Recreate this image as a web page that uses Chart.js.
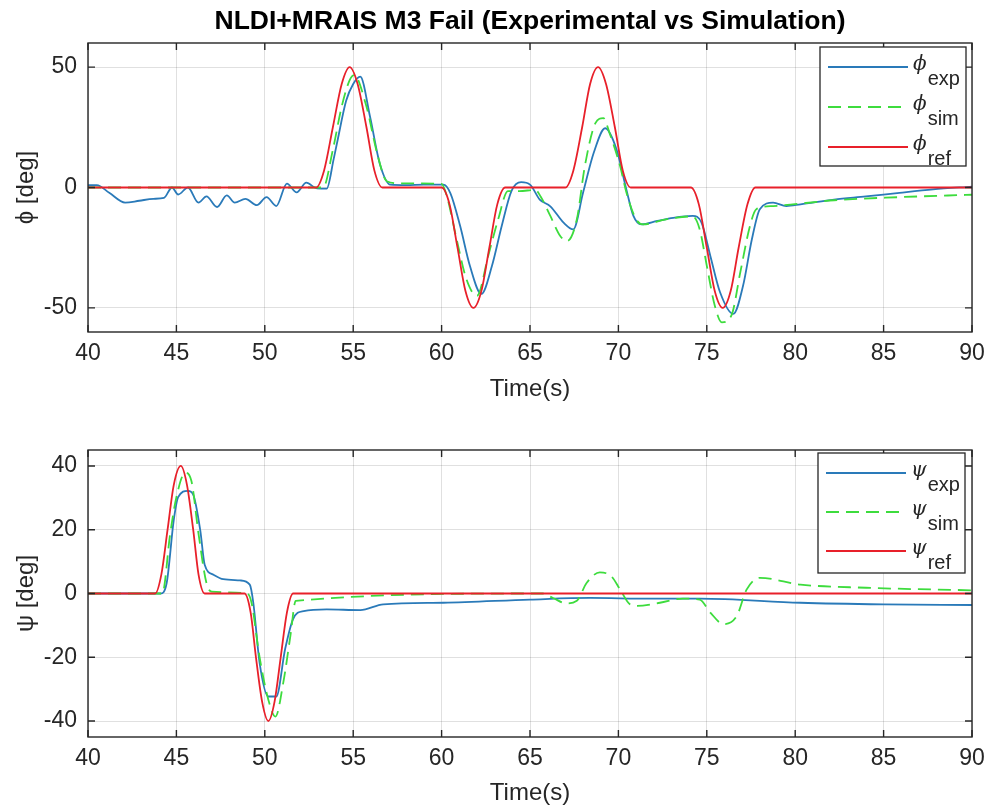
<!DOCTYPE html>
<html>
<head>
<meta charset="utf-8">
<script src="https://cdn.jsdelivr.net/npm/chart.js@4.4.1/dist/chart.umd.min.js"></script>
<style>
  html, body { margin: 0; padding: 0; background: #fff; }
  #wrap { position: relative; width: 987px; height: 809px; }
  .box { position: absolute; left: 0; width: 987px; }
  #phiBox { top: 0; height: 410px; }
  #psiBox { top: 410px; height: 399px; }
</style>
</head>
<body>
<div id="wrap">
  <div class="box" id="phiBox"><canvas id="phiChart"></canvas></div>
  <div class="box" id="psiBox"><canvas id="psiChart"></canvas></div>
</div>
<script>
// ---- data ----
const timeTicks = [40, 45, 50, 55, 60, 65, 70, 75, 80, 85, 90];
const phiTicks = [-50, 0, 50];
const psiTicks = [-40, -20, 0, 20, 40];

// roll angle (top plot)
const tPhiExp = [40, 40.5, 41.2, 42.1, 42.9, 43.7, 44.3, 44.75, 45.1, 45.65, 46.25, 46.7, 47.3, 47.85, 48.3, 48.9, 49.55, 50.1, 50.65, 51.25, 51.8, 52.35, 52.95, 53.5, 53.9, 54.1, 54.6, 55.0, 55.4, 55.95, 56.5, 57.1, 58, 59, 60.1, 60.5, 61.05, 61.6, 62.25, 62.85, 63.4, 63.95, 64.5, 65.0, 65.55, 66.15, 66.9, 67.45, 68.0, 68.6, 69.25, 69.9, 70.45, 70.85, 71.3, 72.2, 73.1, 74.2, 74.7, 75.2, 75.75, 76.5, 77.05, 77.55, 78.0, 78.75, 79.5, 80.3, 82.2, 84.0, 85.9, 87.8, 90];
const phiExp = [1, 1, -2.2, -6.3, -5.5, -4.7, -4.3, 0, -2.9, 0, -6.3, -3.7, -8.1, -3.3, -6.3, -4.7, -7.3, -4, -7.7, 1.6, -2, 2, -0.4, -0.5, 12, 19, 36, 43, 46, 29.5, 10, 1.2, 1, 1.2, 1.2, -2.4, -16, -32.5, -44.2, -32.5, -16, -1.5, 2.2, 1.2, -5, -7.8, -14.6, -17.4, -2.2, 14.3, 24.6, 15.7, -0.8, -11.8, -15.3, -13.9, -12.6, -11.8, -14.6, -28.4, -43.5, -52.5, -40.8, -21.5, -9, -6.3, -7.7, -7, -5, -3.7, -2.2, -0.8, 0.4];

const tPhiSim = [40, 53.3, 53.85, 54.35, 54.8, 55.05, 55.75, 56.35, 56.9, 57.65, 60.0, 60.3, 60.85, 61.4, 62.0, 62.65, 63.2, 63.75, 64.4, 65.3, 65.6, 66.15, 66.7, 67.1, 67.65, 68.1, 68.7, 69.15, 69.5, 70.1, 70.45, 71.0, 71.4, 72.7, 74.2, 74.6, 75.0, 75.45, 75.85, 76.4, 76.9, 77.45, 77.8, 78.75, 82.2, 85.9, 90];
const phiSim = [0, 0, 15.7, 33.6, 44.6, 46.7, 33.6, 14.3, 2.6, 1.7, 1.5, -3.7, -21.5, -38, -45, -28, -13.2, -1.5, -1.5, -1, -3.7, -11.8, -20, -22.2, -13.2, 8.8, 26.7, 28.8, 22.6, 8.8, -2, -13.2, -15.3, -13.2, -12, -17.4, -32.5, -49, -56, -53, -35, -15.7, -9, -7.7, -5.3, -4, -3];

const tPhiRef = [40, 52.9, 53.35, 53.85, 54.35, 54.8, 55.25, 55.75, 56.2, 56.65, 60.0, 60.45, 60.9, 61.35, 61.8, 62.25, 62.7, 63.15, 63.6, 67.0, 67.45, 67.95, 68.4, 68.85, 69.3, 69.8, 70.25, 70.7, 74.1, 74.55, 75.0, 75.45, 75.9, 76.35, 76.8, 77.3, 77.75, 90];
const phiRef = [0, 0, 7, 25, 43, 50, 43, 25, 7, 0, 0, -7, -25, -43, -50, -43, -25, -7, 0, 0, 7, 25, 43, 50, 43, 25, 7, 0, 0, -7, -25, -43, -50, -43, -25, -7, 0, 0];

// yaw angle (bottom plot)
const tPsiExp = [40, 44.1, 44.45, 44.85, 45.1, 45.65, 45.95, 46.35, 46.6, 47.1, 47.65, 48.6, 49.15, 49.35, 49.7, 50.2, 50.65, 51.15, 51.6, 52.2, 53.5, 55.4, 56.7, 60.1, 65, 68.4, 71.8, 74.6, 80.3, 85, 90];
const psiExp = [0, 0, 3.3, 23, 30.2, 32.2, 31, 19.8, 9, 5.9, 4.5, 4.1, 2.8, -2.9, -21.5, -32.3, -32.3, -17.4, -8, -5.5, -5, -5.2, -3.4, -2.9, -1.9, -1.4, -1.6, -1.6, -2.9, -3.4, -3.6];

const tPsiSim = [40, 44.2, 44.65, 45.0, 45.5, 45.85, 46.25, 46.7, 47.0, 49.0, 49.25, 49.7, 50.2, 50.6, 51.05, 51.45, 51.75, 65.7, 66.3, 67.05, 67.65, 68.2, 68.95, 69.6, 70.1, 70.65, 71.05, 72.35, 73.65, 74.6, 75.2, 75.95, 76.7, 77.25, 78.0, 80.3, 84.0, 90];
const psiSim = [0, 0, 18.8, 30.2, 37.9, 35.3, 18.8, 3.3, 0.6, 0, -2.9, -19.8, -33.3, -38.6, -27.8, -13.2, -2.3, 0, -1.4, -3.1, -2.3, 3.3, 6.6, 5.4, 1.2, -3.4, -3.9, -2.9, -1.6, -1.9, -6, -9.6, -7, 1.2, 4.9, 2.8, 1.8, 1];

const tPsiRef = [40, 43.8, 44.15, 44.5, 44.85, 45.25, 45.6, 45.95, 46.25, 46.6, 48.85, 49.2, 49.5, 49.85, 50.2, 50.55, 50.9, 51.25, 51.6, 90];
const psiRef = [0, 0, 6, 20, 34, 40, 34, 20, 6, 0, 0, -6, -20, -34, -40, -34, -20, -6, 0, 0];

const colors = { exp: '#2a7ab9', sim: '#3ddc3d', ref: '#e8202a' };

Chart.defaults.font.family = '"Liberation Sans", Arial, sans-serif';
Chart.defaults.color = '#262626';

const toPts = (t, v) => t.map((x, i) => ({ x: x, y: v[i] }));

// box around the axes with inward ticks on all four sides, MATLAB style
const matFrame = {
    id: 'matFrame',
    afterDatasetsDraw(chart) {
        const { ctx, chartArea: a, scales } = chart;
        ctx.save();
        ctx.strokeStyle = '#262626';
        ctx.lineWidth = 1.4;
        ctx.strokeRect(a.left, a.top, a.right - a.left, a.bottom - a.top);
        ctx.beginPath();
        scales.x.ticks.forEach(t => {
            const px = scales.x.getPixelForValue(t.value);
            ctx.moveTo(px, a.bottom); ctx.lineTo(px, a.bottom - 7);
            ctx.moveTo(px, a.top); ctx.lineTo(px, a.top + 7);
        });
        scales.y.ticks.forEach(t => {
            const py = scales.y.getPixelForValue(t.value);
            ctx.moveTo(a.left, py); ctx.lineTo(a.left + 7, py);
            ctx.moveTo(a.right, py); ctx.lineTo(a.right - 7, py);
        });
        ctx.stroke();
        ctx.restore();
    }
};

// legend with subscripted greek labels ("ϕ_exp" -> ϕ + subscript exp)
const matLegend = {
    id: 'matLegend',
    afterDraw(chart, args, opts) {
        const { ctx, chartArea: a } = chart;
        const x0 = a.right - opts.right - opts.width;
        const y0 = a.top + opts.top;
        ctx.save();
        ctx.fillStyle = '#fff';
        ctx.fillRect(x0, y0, opts.width, opts.height);
        ctx.strokeStyle = '#262626';
        ctx.lineWidth = 1.3;
        ctx.strokeRect(x0, y0, opts.width, opts.height);
        chart.data.datasets.forEach((ds, i) => {
            const cy = y0 + opts.rowTop + i * opts.rowGap;
            ctx.strokeStyle = ds.borderColor;
            ctx.lineWidth = ds.borderWidth;
            ctx.setLineDash(ds.borderDash || []);
            ctx.beginPath();
            ctx.moveTo(x0 + 8, cy);
            ctx.lineTo(x0 + 88, cy);
            ctx.stroke();
            ctx.setLineDash([]);
            const [sym, sub] = ds.label.split('_');
            ctx.fillStyle = '#262626';
            ctx.textAlign = 'left';
            ctx.textBaseline = 'middle';
            ctx.font = 'italic 20px "DejaVu Serif"';
            ctx.fillText(sym, x0 + 93, cy - 2);
            const w = ctx.measureText(sym).width;
            ctx.font = '20px "Liberation Sans"';
            ctx.fillText(sub, x0 + 94 + w, cy + 12);
        });
        ctx.restore();
    }
};

function lineSet(label, pts, color, order, dash) {
    return {
        label: label,
        data: pts,
        borderColor: color,
        borderWidth: 1.8,
        borderDash: dash || [],
        pointRadius: 0,
        fill: false,
        cubicInterpolationMode: 'monotone',
        order: order
    };
}

function makeOptions(cfg) {
    return {
        responsive: true,
        maintainAspectRatio: false,
        animation: false,
        layout: { padding: { top: cfg.padTop, right: 15, left: 0, bottom: 0 } },
        plugins: {
            legend: { display: false },
            tooltip: { enabled: false },
            title: cfg.title ? {
                display: true,
                text: cfg.title,
                fullSize: false,
                font: { size: 26.5, weight: 'bold' },
                color: '#000',
                padding: { top: 6, bottom: 5.2 }
            } : { display: false },
            matLegend: cfg.legend
        },
        scales: {
            x: {
                type: 'linear',
                min: 40, max: 90,
                afterBuildTicks: s => { s.ticks = timeTicks.map(v => ({ value: v })); },
                afterFit: s => { s.height = cfg.xHeight; },
                // small label padding keeps the right edge at 972; the gap comes from a hidden tick length
                ticks: { font: { size: 23 }, padding: 2, maxRotation: 0, autoSkip: false },
                grid: { color: 'rgba(0,0,0,0.12)', drawTicks: true, tickLength: 6, tickColor: 'rgba(0,0,0,0)' },
                border: { display: false },
                title: { display: true, text: 'Time(s)', font: { size: 24 }, padding: { bottom: cfg.xTitlePad } }
            },
            y: {
                min: cfg.yMin, max: cfg.yMax,
                afterBuildTicks: s => { s.ticks = cfg.yTicks.map(v => ({ value: v })); },
                afterFit: s => { s.width = 88; },
                ticks: { font: { size: 23 }, padding: 11 },
                grid: { color: 'rgba(0,0,0,0.12)', drawTicks: false },
                border: { display: false },
                title: { display: true, text: cfg.yTitle, font: { size: 24 }, padding: { top: 12 } }
            }
        }
    };
}

window.addEventListener('DOMContentLoaded', () => {
    new Chart(document.getElementById('phiChart'), {
        type: 'line',
        data: {
            datasets: [
                lineSet('ϕ_exp', toPts(tPhiExp, phiExp), colors.exp, 3),
                lineSet('ϕ_sim', toPts(tPhiSim, phiSim), colors.sim, 2, [13, 7]),
                lineSet('ϕ_ref', toPts(tPhiRef, phiRef), colors.ref, 1)
            ]
        },
        options: makeOptions({
            padTop: 0, title: 'NLDI+MRAIS M3 Fail (Experimental vs Simulation)',
            xHeight: 78, xTitlePad: 6.6,
            yMin: -60, yMax: 60, yTicks: phiTicks, yTitle: 'ϕ [deg]',
            legend: { right: 6, top: 4, width: 146, height: 119, rowTop: 20, rowGap: 40 }
        }),
        plugins: [matFrame, matLegend]
    });

    new Chart(document.getElementById('psiChart'), {
        type: 'line',
        data: {
            datasets: [
                lineSet('ψ_exp', toPts(tPsiExp, psiExp), colors.exp, 3),
                lineSet('ψ_sim', toPts(tPsiSim, psiSim), colors.sim, 2, [13, 7]),
                lineSet('ψ_ref', toPts(tPsiRef, psiRef), colors.ref, 1)
            ]
        },
        options: makeOptions({
            padTop: 40, title: null,
            xHeight: 72, xTitlePad: 1.5,
            yMin: -45, yMax: 45, yTicks: psiTicks, yTitle: 'ψ [deg]',
            legend: { right: 7, top: 3, width: 147, height: 120, rowTop: 20, rowGap: 39 }
        }),
        plugins: [matFrame, matLegend]
    });
});
</script>
</body>
</html>
